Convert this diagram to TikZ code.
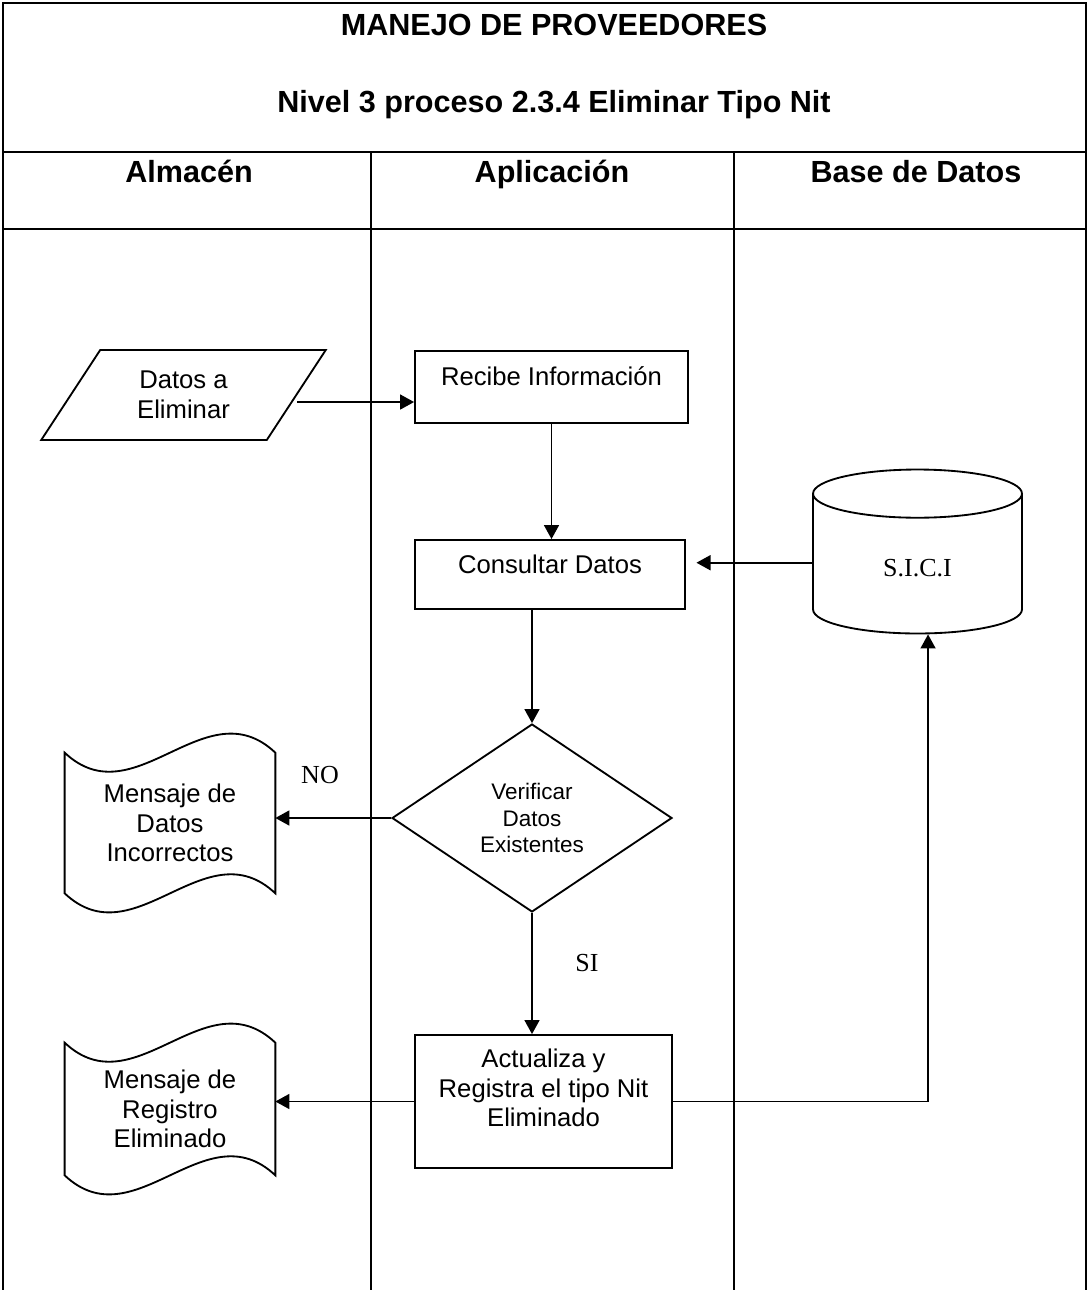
\documentclass[tikz,border=0pt]{standalone}
\usepackage{fontspec}
\setmainfont{Liberation Sans}
\newfontfamily\timesfont{Liberation Serif}
\usepackage{tikz}
\usetikzlibrary{arrows.meta,positioning,shapes,calc}

\begin{document}
\begin{tikzpicture}[
  x=0.02cm, y=-0.02cm,
  linea/.style={line width=1.05pt},
  caja/.style={draw,rectangle,line width=1.05pt,align=center,font=\fontsize{14.6}{16.8}\selectfont},
  doc/.style={rectangle,minimum width=4.2cm,align=center,font=\fontsize{14.6}{16.8}\selectfont},
  titulo/.style={font=\bfseries\fontsize{17.4}{20}\selectfont,text height=12.4pt,text depth=0pt},
  etiq/.style={font=\timesfont\fontsize{14.8}{17}\selectfont},
  >={Triangle[length=8pt,width=8.5pt]}
]
\useasboundingbox (0,0) rectangle (1087,1290);
% Frame and lanes
\draw[linea] (3,1290) -- (3,3) -- (1086,3) -- (1086,1290);
\draw[linea] (3,152) -- (1086,152);
\draw[linea] (3,229) -- (1086,229);
\draw[linea] (371,152) -- (371,1290);
\draw[linea] (734,152) -- (734,1290);
% Headings
\node[titulo] (tit1) at (554,25) {MANEJO DE PROVEEDORES};
\node[titulo] (tit2) at (554,102) {Nivel 3 proceso 2.3.4 Eliminar Tipo Nit};
\node[titulo] (almacen) at (189,172) {Almacén};
\node[titulo] (aplic) at (552,172) {Aplicación};
\node[titulo] (based) at (916,172) {Base de Datos};
% Almacen
\node[trapezium,draw,line width=1.05pt,trapezium stretches=true,
  trapezium left angle=58,trapezium right angle=122,
  minimum width=5.7cm,minimum height=1.8cm,align=center,
  font=\fontsize{14.6}{16.8}\selectfont] (datos) at (183.5,395) {Datos a\\Eliminar};
\node[doc,minimum height=2.8cm] (msgdatos) at (170,823) {Mensaje de\\Datos\\Incorrectos};
\node[doc,minimum height=2.64cm] (msgreg) at (170,1109) {Mensaje de\\Registro\\Eliminado};
\draw[linea] (msgdatos.north west) .. controls +(70,66) and +(-70,-66) .. (msgdatos.north east)
  -- (msgdatos.south east) .. controls +(-70,-66) and +(70,66) .. (msgdatos.south west) -- cycle;
\draw[linea] (msgreg.north west) .. controls +(70,66) and +(-70,-66) .. (msgreg.north east)
  -- (msgreg.south east) .. controls +(-70,-66) and +(70,66) .. (msgreg.south west) -- cycle;
% Aplicacion
\node[caja,minimum width=5.46cm,minimum height=1.44cm,text depth=13pt] (recibe) at (551.5,387) {Recibe Información};
\node[caja,minimum width=5.4cm,minimum height=1.38cm,text depth=11.5pt] (consultar) at (550,574.5) {Consultar Datos};
\node[diamond,draw,line width=1.05pt,inner sep=0pt,minimum width=5.6cm,minimum height=3.76cm,
  align=center,font=\fontsize{12.8}{15.2}\selectfont] (verificar) at (532,818) {Verificar\\Datos\\Existentes};
\node[caja,minimum width=5.14cm,minimum height=2.66cm,text depth=15.5pt] (actualiza) at (543.5,1101.5) {Actualiza y\\Registra el tipo Nit\\Eliminado};
% Base de datos
\node[cylinder,draw,line width=1.05pt,shape border rotate=90,aspect=0.6,
  minimum width=4.18cm,minimum height=3.28cm,etiq] (sici) at (917.5,568) {S.I.C.I};
% Labels
\node[etiq] (no) at (320,775) {NO};
\node[etiq] (si) at (587,963) {SI};
% Connectors
\coordinate (d1) at ([yshift=-4pt]datos.east);
\draw[linea,->] (d1) -- (d1 -| recibe.west);
\draw[linea,->] (recibe.south) -- (recibe.south |- consultar.north);
\draw[linea,->] (verificar.north |- consultar.south) -- (verificar.north);
\draw[linea,->] (verificar.west) -- (verificar.west -| msgdatos.east);
\draw[linea,->] (verificar.south) -- (verificar.south |- actualiza.north);
\draw[linea,->] (actualiza.west) -- (actualiza.west -| msgreg.east);
\coordinate (c1) at ([xshift=6pt]sici.south);
\draw[linea,->] (actualiza.east) -| (c1);
\coordinate (c2) at ([yshift=3pt]sici.west);
\draw[linea,->,shorten >=6pt] (c2) -- (c2 -| consultar.east);
\end{tikzpicture}
\end{document}
